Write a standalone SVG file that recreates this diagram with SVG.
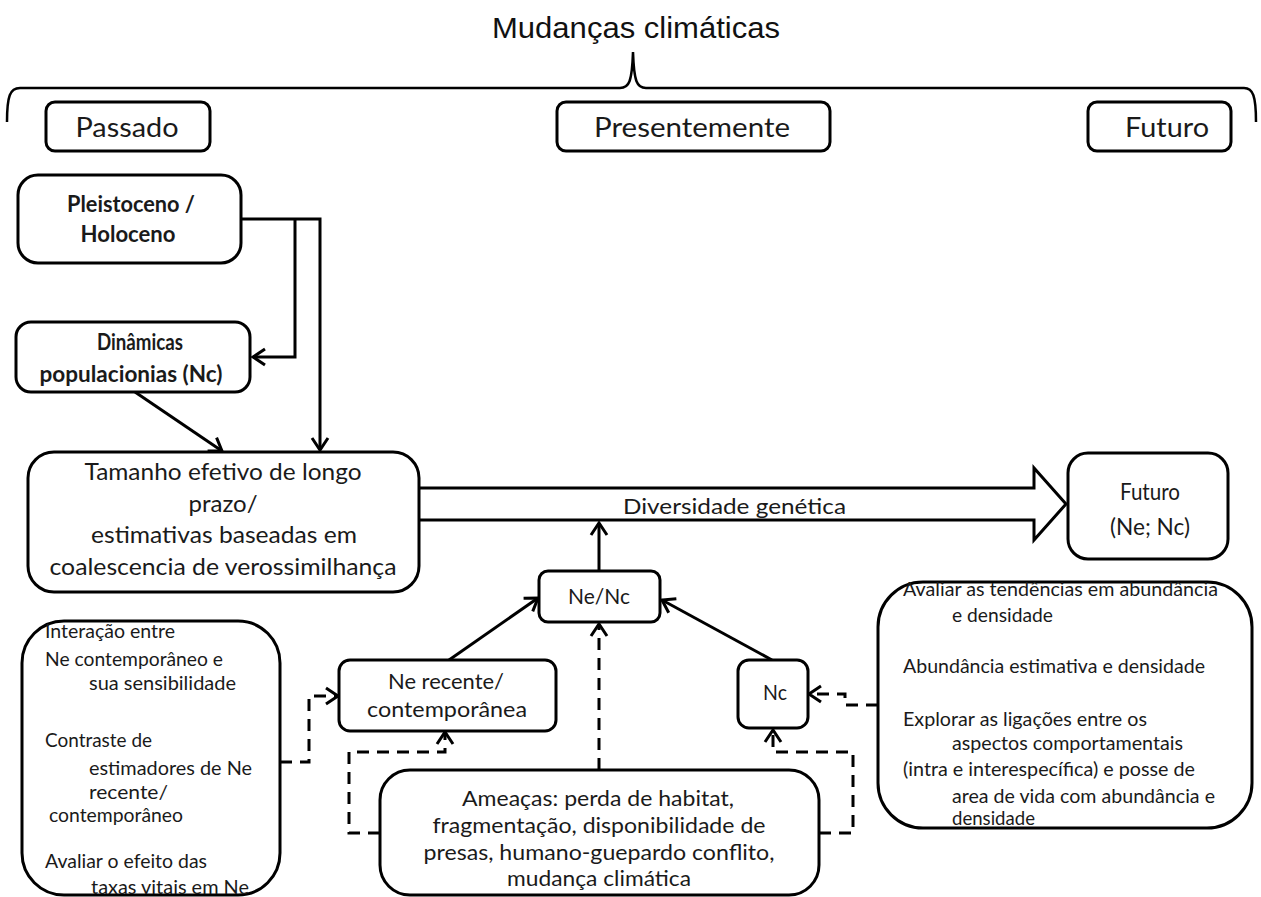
<svg xmlns="http://www.w3.org/2000/svg" width="1261" height="897" viewBox="0 0 1261 897">
<style>
.box{fill:#fff;stroke:#000;stroke-width:3}
.t{font-family:Lato,"Open Sans",sans-serif;fill:#1a1a1a}
.c{text-anchor:middle}
.b{font-weight:bold}
.ln{fill:none;stroke:#000;stroke-width:3}
.dash{fill:none;stroke:#000;stroke-width:3;stroke-dasharray:12 8}
</style>
<defs>
<marker id="ah" markerUnits="userSpaceOnUse" markerWidth="20" markerHeight="20" viewBox="0 0 20 20" refX="17" refY="10" orient="auto">
<path d="M5,2 L17,10 L5,18" fill="none" stroke="#000" stroke-width="3"/>
</marker>
</defs>
<rect width="1261" height="897" fill="#fff"/>
<g id="title">
<text x="636" y="38" class="c" font-family="'Liberation Sans',Arial,sans-serif" font-size="30" fill="#111" textLength="288" lengthAdjust="spacingAndGlyphs">Mudanças climáticas</text>
<path d="M7,122 C7,96 10,88 20,88 L620,88 C629,88 632,82 633,52 C634,82 637,88 646,88 L1244,88 C1253,88 1256,96 1256,122" fill="none" stroke="#000" stroke-width="2.5"/>
</g>
<g id="passado">
<rect class="box" x="46" y="102" width="164" height="49" rx="9"/>
<text class="t c" x="127" y="137" font-size="27" textLength="103" lengthAdjust="spacingAndGlyphs">Passado</text>
</g>
<g id="presentemente">
<rect class="box" x="557" y="102" width="273" height="49" rx="9"/>
<text class="t c" x="692" y="137" font-size="27" textLength="196" lengthAdjust="spacingAndGlyphs">Presentemente</text>
</g>
<g id="futuro-header">
<rect class="box" x="1088" y="102" width="143" height="49" rx="9"/>
<text class="t c" x="1167" y="137" font-size="27" textLength="84" lengthAdjust="spacingAndGlyphs">Futuro</text>
</g>
<g id="connectors">
<path class="ln" d="M241,219 H320 V450" marker-end="url(#ah)"/>
<path class="ln" d="M295,219 V357 H253" marker-end="url(#ah)"/>
<path class="ln" d="M135,392 L222,451" marker-end="url(#ah)"/>
<path d="M419,488 H1034 V468 L1066,504 L1034,540 V520 H419" fill="#fff" stroke="#000" stroke-width="3"/>
<path class="ln" d="M599,571 V523" marker-end="url(#ah)"/>
<path class="ln" d="M449,660 L538,598" marker-end="url(#ah)"/>
<path class="ln" d="M772,660 L662,600" marker-end="url(#ah)"/>
<path class="dash" d="M599,770 V624" marker-end="url(#ah)"/>
<path class="dash" d="M280,762 H309 V696 H338" marker-end="url(#ah)"/>
<path class="dash" d="M380,833 H349 V752 H445 V732" marker-end="url(#ah)"/>
<path class="dash" d="M819,833 H853 V752 H773 V730" marker-end="url(#ah)"/>
<path class="dash" d="M878,705 H845 V694 H809" marker-end="url(#ah)"/>
</g>
<text class="t" x="623" y="514" font-size="22" fill="#333" textLength="223" lengthAdjust="spacingAndGlyphs">Diversidade genética</text>
<g id="pleistoceno">
<rect class="box" x="18" y="175" width="223" height="88" rx="20"/>
<text class="t c b" x="131" y="212" font-size="22" textLength="128" lengthAdjust="spacingAndGlyphs">Pleistoceno /</text>
<text class="t c b" x="128" y="242" font-size="22" textLength="95" lengthAdjust="spacingAndGlyphs">Holoceno</text>
</g>
<g id="dinamicas">
<rect class="box" x="16" y="322" width="234" height="70" rx="15"/>
<text class="t c b" x="140" y="350" font-size="22" textLength="86" lengthAdjust="spacingAndGlyphs">Dinâmicas</text>
<text class="t c b" x="131" y="382" font-size="22" textLength="183" lengthAdjust="spacingAndGlyphs">populacionias (Nc)</text>
</g>
<g id="tamanho">
<rect class="box" x="28" y="452" width="391" height="140" rx="26"/>
<text class="t c" x="223" y="480" font-size="24" fill="#333" textLength="277" lengthAdjust="spacingAndGlyphs">Tamanho efetivo de longo</text>
<text class="t c" x="223" y="512" font-size="24" fill="#333" textLength="69" lengthAdjust="spacingAndGlyphs">prazo/</text>
<text class="t c" x="224" y="543" font-size="24" fill="#333" textLength="266" lengthAdjust="spacingAndGlyphs">estimativas baseadas em</text>
<text class="t c" x="223" y="575" font-size="24" fill="#333" textLength="347" lengthAdjust="spacingAndGlyphs">coalescencia de verossimilhança</text>
</g>
<g id="futuro-nenc">
<rect class="box" x="1068" y="453" width="160" height="106" rx="20"/>
<text class="t c" x="1150" y="500" font-size="24" fill="#333" textLength="60" lengthAdjust="spacingAndGlyphs">Futuro</text>
<text class="t c" x="1150" y="535" font-size="24" fill="#333" textLength="80" lengthAdjust="spacingAndGlyphs">(Ne; Nc)</text>
</g>
<g id="nenc">
<rect class="box" x="539" y="571" width="121" height="51" rx="9"/>
<text class="t c" x="599" y="604" font-size="21" textLength="62" lengthAdjust="spacingAndGlyphs">Ne/Nc</text>
</g>
<g id="nerecente">
<rect class="box" x="339" y="660" width="217" height="71" rx="11"/>
<text class="t c" x="446" y="689" font-size="22" textLength="116" lengthAdjust="spacingAndGlyphs">Ne recente/</text>
<text class="t c" x="447" y="717" font-size="22" textLength="160" lengthAdjust="spacingAndGlyphs">contemporânea</text>
</g>
<g id="nc">
<rect class="box" x="738" y="660" width="70" height="68" rx="11"/>
<text class="t c" x="775" y="700" font-size="21" textLength="24" lengthAdjust="spacingAndGlyphs">Nc</text>
</g>
<g id="ameacas">
<rect class="box" x="380" y="770" width="439" height="125" rx="30"/>
<text class="t c" x="598" y="806" font-size="22" textLength="272" lengthAdjust="spacingAndGlyphs">Ameaças: perda de habitat,</text>
<text class="t c" x="599" y="833" font-size="22" textLength="333" lengthAdjust="spacingAndGlyphs">fragmentação, disponibilidade de</text>
<text class="t c" x="599" y="860" font-size="22" textLength="351" lengthAdjust="spacingAndGlyphs">presas, humano-guepardo conflito,</text>
<text class="t c" x="599" y="886" font-size="22" textLength="184" lengthAdjust="spacingAndGlyphs">mudança climática</text>
</g>
<g id="left-box">
<rect class="box" x="22" y="621" width="258" height="274" rx="42"/>
<text class="t" x="45" y="638" font-size="19" textLength="130" lengthAdjust="spacingAndGlyphs">Interação entre</text>
<text class="t" x="45" y="666" font-size="19" textLength="178" lengthAdjust="spacingAndGlyphs">Ne contemporâneo e</text>
<text class="t" x="89" y="690" font-size="19" textLength="147" lengthAdjust="spacingAndGlyphs">sua sensibilidade</text>
<text class="t" x="45" y="747" font-size="19" textLength="107" lengthAdjust="spacingAndGlyphs">Contraste de</text>
<text class="t" x="89" y="775" font-size="19" textLength="163" lengthAdjust="spacingAndGlyphs">estimadores de Ne</text>
<text class="t" x="89" y="799" font-size="19" textLength="79" lengthAdjust="spacingAndGlyphs">recente/</text>
<text class="t" x="49" y="822" font-size="19" textLength="134" lengthAdjust="spacingAndGlyphs">contemporâneo</text>
<text class="t" x="45" y="868" font-size="19" textLength="162" lengthAdjust="spacingAndGlyphs">Avaliar o efeito das</text>
<text class="t" x="91" y="894" font-size="19" textLength="158" lengthAdjust="spacingAndGlyphs">taxas vitais em Ne</text>
</g>
<g id="right-box">
<rect class="box" x="878" y="582" width="374" height="246" rx="45"/>
<text class="t" x="903" y="596" font-size="19" textLength="315" lengthAdjust="spacingAndGlyphs">Avaliar as tendências em abundância</text>
<text class="t" x="952" y="622" font-size="19" textLength="101" lengthAdjust="spacingAndGlyphs">e densidade</text>
<text class="t" x="903" y="673" font-size="19" textLength="302" lengthAdjust="spacingAndGlyphs">Abundância estimativa e densidade</text>
<text class="t" x="903" y="726" font-size="19" textLength="244" lengthAdjust="spacingAndGlyphs">Explorar as ligações entre os</text>
<text class="t" x="952" y="750" font-size="19" textLength="231" lengthAdjust="spacingAndGlyphs">aspectos comportamentais</text>
<text class="t" x="903" y="776" font-size="19" textLength="292" lengthAdjust="spacingAndGlyphs">(intra e interespecífica) e posse de</text>
<text class="t" x="952" y="803" font-size="19" textLength="263" lengthAdjust="spacingAndGlyphs">area de vida com abundância e</text>
<text class="t" x="952" y="825" font-size="19" textLength="83" lengthAdjust="spacingAndGlyphs">densidade</text>
</g>
</svg>
